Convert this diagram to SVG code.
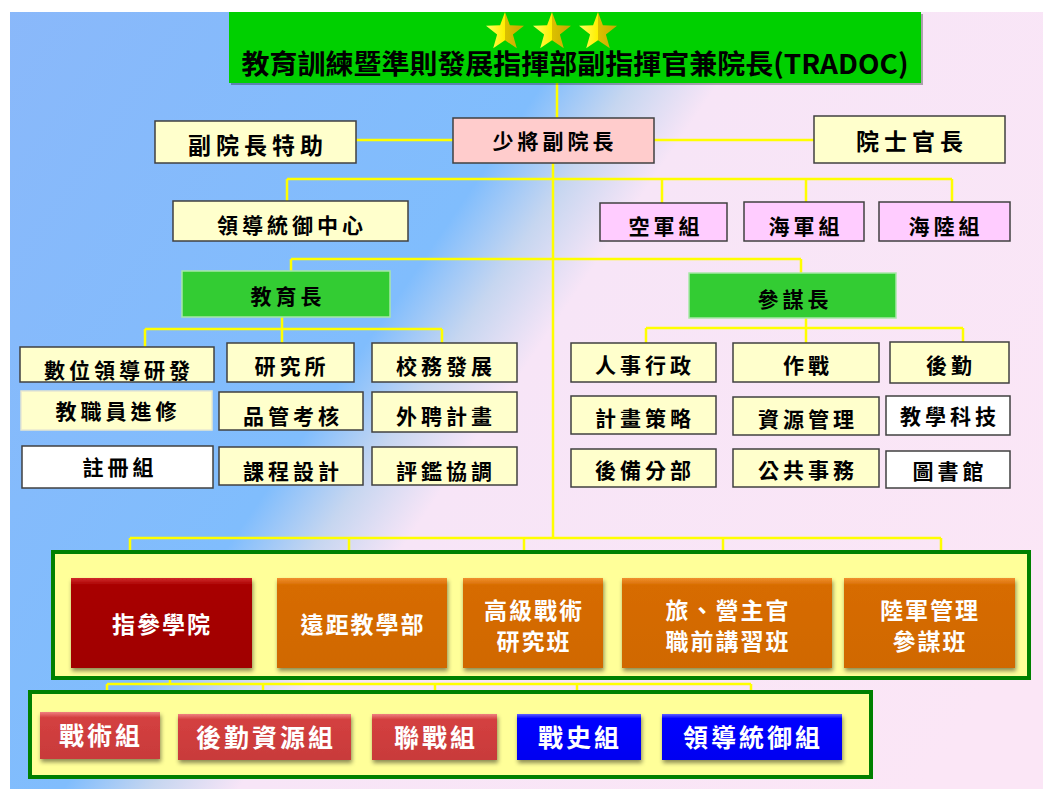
<svg xmlns="http://www.w3.org/2000/svg" width="1043" height="789" viewBox="0 0 1043 789">
<defs>
<linearGradient id="bg" gradientUnits="userSpaceOnUse" x1="0" y1="0" x2="1000" y2="680">
<stop offset="0" stop-color="#8ab8fa"/>
<stop offset="0.41" stop-color="#80bdfd"/>
<stop offset="0.47" stop-color="#c6d6f0"/>
<stop offset="0.53" stop-color="#f7e5f7"/>
<stop offset="1" stop-color="#fbe6f6"/>
</linearGradient>
<linearGradient id="star" x1="0" y1="0" x2="1" y2="0">
<stop offset="0" stop-color="#ffff60"/>
<stop offset="0.5" stop-color="#ffee00"/>
<stop offset="0.5" stop-color="#dcc000"/>
<stop offset="1" stop-color="#c8a800"/>
</linearGradient>
<linearGradient id="gDark" x1="0" y1="0" x2="0" y2="1">
<stop offset="0" stop-color="#d02828"/>
<stop offset="0.08" stop-color="#a80000"/>
<stop offset="1" stop-color="#a00000"/>
</linearGradient>
<linearGradient id="gOr" x1="0" y1="0" x2="0" y2="1">
<stop offset="0" stop-color="#f09030"/>
<stop offset="0.08" stop-color="#d76c00"/>
<stop offset="1" stop-color="#d06800"/>
</linearGradient>
<linearGradient id="gRed" x1="0" y1="0" x2="0" y2="1">
<stop offset="0" stop-color="#f08080"/>
<stop offset="0.12" stop-color="#d44040"/>
<stop offset="1" stop-color="#c83a3a"/>
</linearGradient>
<linearGradient id="gBlue" x1="0" y1="0" x2="0" y2="1">
<stop offset="0" stop-color="#6060ff"/>
<stop offset="0.1" stop-color="#0000ff"/>
<stop offset="1" stop-color="#0000f0"/>
</linearGradient>
<filter id="sh" x="-10%" y="-10%" width="125%" height="130%">
<feDropShadow dx="1" dy="3" stdDeviation="2" flood-color="#000" flood-opacity="0.45"/>
</filter>
<polygon id="st" points="0,-20 4.9,-6.7 19,-6.2 7.9,2.6 11.8,16.2 0,8.3 -11.8,16.2 -7.9,2.6 -19,-6.2 -4.9,-6.7"/>
</defs>
<style>
.b{stroke:#404040;stroke-width:1.5}
.y{fill:#ffffcc}
.p{fill:#ffcccc}
.m{fill:#ffccff}
.w{fill:#ffffff}
.g{fill:#33cc33;stroke:#a8e8a8;stroke-width:1.5}
.t{font-family:"Noto Sans CJK TC","Noto Sans CJK SC",sans-serif;font-weight:bold;fill:#000;text-anchor:middle}
.s21{font-size:21px;letter-spacing:4px}
.s22{font-size:23px;letter-spacing:5px}
.wt{font-family:"Noto Sans CJK TC","Noto Sans CJK SC",sans-serif;font-weight:bold;fill:#fff;text-anchor:middle}
.s24{font-size:23px;letter-spacing:2px}
.s26{font-size:25px;letter-spacing:3px}
.c{fill:#ffff99;stroke:#008000;stroke-width:4}
.ln{stroke:#ffff00;stroke-width:2.5;fill:none}
</style>
<rect x="0" y="0" width="1043" height="789" fill="#ffffff"/>
<rect x="10" y="12" width="1033" height="777" fill="url(#bg)"/>

<g id="connectors" class="ln">
<path d="M557,83V118 M553,163V538"/>
<path d="M356,140H453 M654,140H814"/>
<path d="M287,179H952 M287,179V201 M662,179V203 M806,179V202 M952,179V202"/>
<path d="M291,259H801 M291,259V271 M801,259V273"/>
<path d="M282,317V343 M145,329H442 M145,329V347 M442,329V343"/>
<path d="M806,318V343 M646,328H963 M646,328V343 M963,328V342"/>
<path d="M130,538H941 M130,538V552 M349,538V552 M524,538V552 M723,538V552 M941,538V552"/>
<path d="M170,678V684 M107,684H751 M107,684V712 M263,684V714 M435,684V714 M577,684V714 M751,684V714"/>
</g>

<g id="top">
<rect x="231" y="14" width="692" height="71" fill="#000" opacity="0.3"/>
<rect x="229" y="12" width="692" height="71" fill="#00d000"/>
<use href="#st" x="505" y="32" fill="url(#star)"/>
<use href="#st" x="552" y="32" fill="url(#star)"/>
<use href="#st" x="598" y="32" fill="url(#star)"/>
<text class="t" x="575" y="74" font-size="27" textLength="667" lengthAdjust="spacingAndGlyphs">教育訓練暨準則發展指揮部副指揮官兼院長(TRADOC)</text>
</g>

<g id="n-vice"><rect class="b p" x="453" y="118" width="201" height="45"/><text class="t s21" x="555" y="149">少將副院長</text></g>
<g id="n-aide"><rect class="b y" x="155" y="121" width="201" height="42"/><text class="t s22" x="258" y="154">副院長特助</text></g>
<g id="n-csm"><rect class="b y" x="814" y="116" width="191" height="47"/><text class="t s22" x="912" y="150">院士官長</text></g>

<g id="n-lead"><rect class="b y" x="173" y="201" width="235" height="40"/><text class="t s21" x="292" y="233">領導統御中心</text></g>
<g id="n-af"><rect class="b m" x="600" y="203" width="127" height="38"/><text class="t s21" x="666" y="234">空軍組</text></g>
<g id="n-navy"><rect class="b m" x="744" y="202" width="120" height="39"/><text class="t s21" x="806" y="234">海軍組</text></g>
<g id="n-mar"><rect class="b m" x="879" y="202" width="131" height="39"/><text class="t s21" x="946" y="234">海陸組</text></g>

<g id="n-edu"><rect class="g" x="182" y="271" width="208" height="46"/><text class="t s21" x="288" y="304">教育長</text></g>
<g id="n-cos"><rect class="g" x="689" y="273" width="207" height="45"/><text class="t s21" x="795" y="307">參謀長</text></g>

<g id="n-e1"><rect class="b y" x="20" y="347" width="194" height="35"/><text class="t s21" x="119" y="378">數位領導研發</text></g>
<g id="n-e2"><rect class="b y" x="227" y="343" width="127" height="39"/><text class="t s21" x="292" y="374">研究所</text></g>
<g id="n-e3"><rect class="b y" x="372" y="343" width="145" height="39"/><text class="t s21" x="446" y="374">校務發展</text></g>
<g id="n-e4"><rect class="y" stroke="#e8e8d0" stroke-width="1.5" x="21" y="391" width="191" height="39"/><text class="t s21" x="118" y="419">教職員進修</text></g>
<g id="n-e5"><rect class="b y" x="219" y="392" width="144" height="38"/><text class="t s21" x="293" y="424">品管考核</text></g>
<g id="n-e6"><rect class="b y" x="372" y="392" width="145" height="40"/><text class="t s21" x="446" y="424">外聘計畫</text></g>
<g id="n-e7"><rect class="b w" x="22" y="446" width="191" height="42"/><text class="t s21" x="120" y="475">註冊組</text></g>
<g id="n-e8"><rect class="b y" x="219" y="447" width="144" height="38"/><text class="t s21" x="293" y="479">課程設計</text></g>
<g id="n-e9"><rect class="b y" x="372" y="447" width="145" height="38"/><text class="t s21" x="446" y="479">評鑑協調</text></g>

<g id="n-s1"><rect class="b y" x="571" y="343" width="145" height="39"/><text class="t s21" x="645" y="373">人事行政</text></g>
<g id="n-s2"><rect class="b y" x="733" y="343" width="146" height="39"/><text class="t s21" x="808" y="373">作戰</text></g>
<g id="n-s3"><rect class="b y" x="890" y="342" width="119" height="41"/><text class="t s21" x="951" y="373">後勤</text></g>
<g id="n-s4"><rect class="b y" x="571" y="396" width="145" height="38"/><text class="t s21" x="645" y="426">計畫策略</text></g>
<g id="n-s5"><rect class="b y" x="733" y="397" width="146" height="38"/><text class="t s21" x="808" y="427">資源管理</text></g>
<g id="n-s6"><rect class="b w" x="886" y="396" width="124" height="39"/><text class="t s21" x="950" y="424">教學科技</text></g>
<g id="n-s7"><rect class="b y" x="571" y="449" width="145" height="38"/><text class="t s21" x="645" y="478">後備分部</text></g>
<g id="n-s8"><rect class="b y" x="733" y="449" width="146" height="38"/><text class="t s21" x="808" y="478">公共事務</text></g>
<g id="n-s9"><rect class="b w" x="886" y="451" width="124" height="37"/><text class="t s21" x="950" y="479">圖書館</text></g>

<g id="cont1"><rect class="c" x="53" y="552" width="976" height="126"/></g>
<g id="n-m1"><rect x="71" y="578" width="181" height="90" fill="url(#gDark)" filter="url(#sh)"/><text class="wt s24" x="162" y="633">指參學院</text></g>
<g id="n-m2"><rect x="277" y="578" width="170" height="90" fill="url(#gOr)" filter="url(#sh)"/><text class="wt s24" x="363" y="633">遠距教學部</text></g>
<g id="n-m3"><rect x="463" y="578" width="140" height="90" fill="url(#gOr)" filter="url(#sh)"/><text class="wt s24" x="534" y="619">高級戰術</text><text class="wt s24" x="534" y="650">研究班</text></g>
<g id="n-m4"><rect x="622" y="578" width="210" height="90" fill="url(#gOr)" filter="url(#sh)"/><text class="wt s24" x="728" y="619">旅、營主官</text><text class="wt s24" x="728" y="650">職前講習班</text></g>
<g id="n-m5"><rect x="844" y="578" width="171" height="90" fill="url(#gOr)" filter="url(#sh)"/><text class="wt s24" x="930" y="619">陸軍管理</text><text class="wt s24" x="930" y="650">參謀班</text></g>

<g id="cont2"><rect class="c" x="30" y="692" width="841" height="85"/></g>
<g id="n-b1"><rect x="40" y="712" width="120" height="47" fill="url(#gRed)" filter="url(#sh)"/><text class="wt s26" x="101" y="745">戰術組</text></g>
<g id="n-b2"><rect x="178" y="714" width="173" height="46" fill="url(#gRed)" filter="url(#sh)"/><text class="wt s26" x="266" y="747">後勤資源組</text></g>
<g id="n-b3"><rect x="372" y="714" width="125" height="46" fill="url(#gRed)" filter="url(#sh)"/><text class="wt s26" x="436" y="747">聯戰組</text></g>
<g id="n-b4"><rect x="517" y="714" width="124" height="46" fill="url(#gBlue)" filter="url(#sh)"/><text class="wt s26" x="580" y="747">戰史組</text></g>
<g id="n-b5"><rect x="662" y="714" width="180" height="46" fill="url(#gBlue)" filter="url(#sh)"/><text class="wt s26" x="753" y="747">領導統御組</text></g>
</svg>
